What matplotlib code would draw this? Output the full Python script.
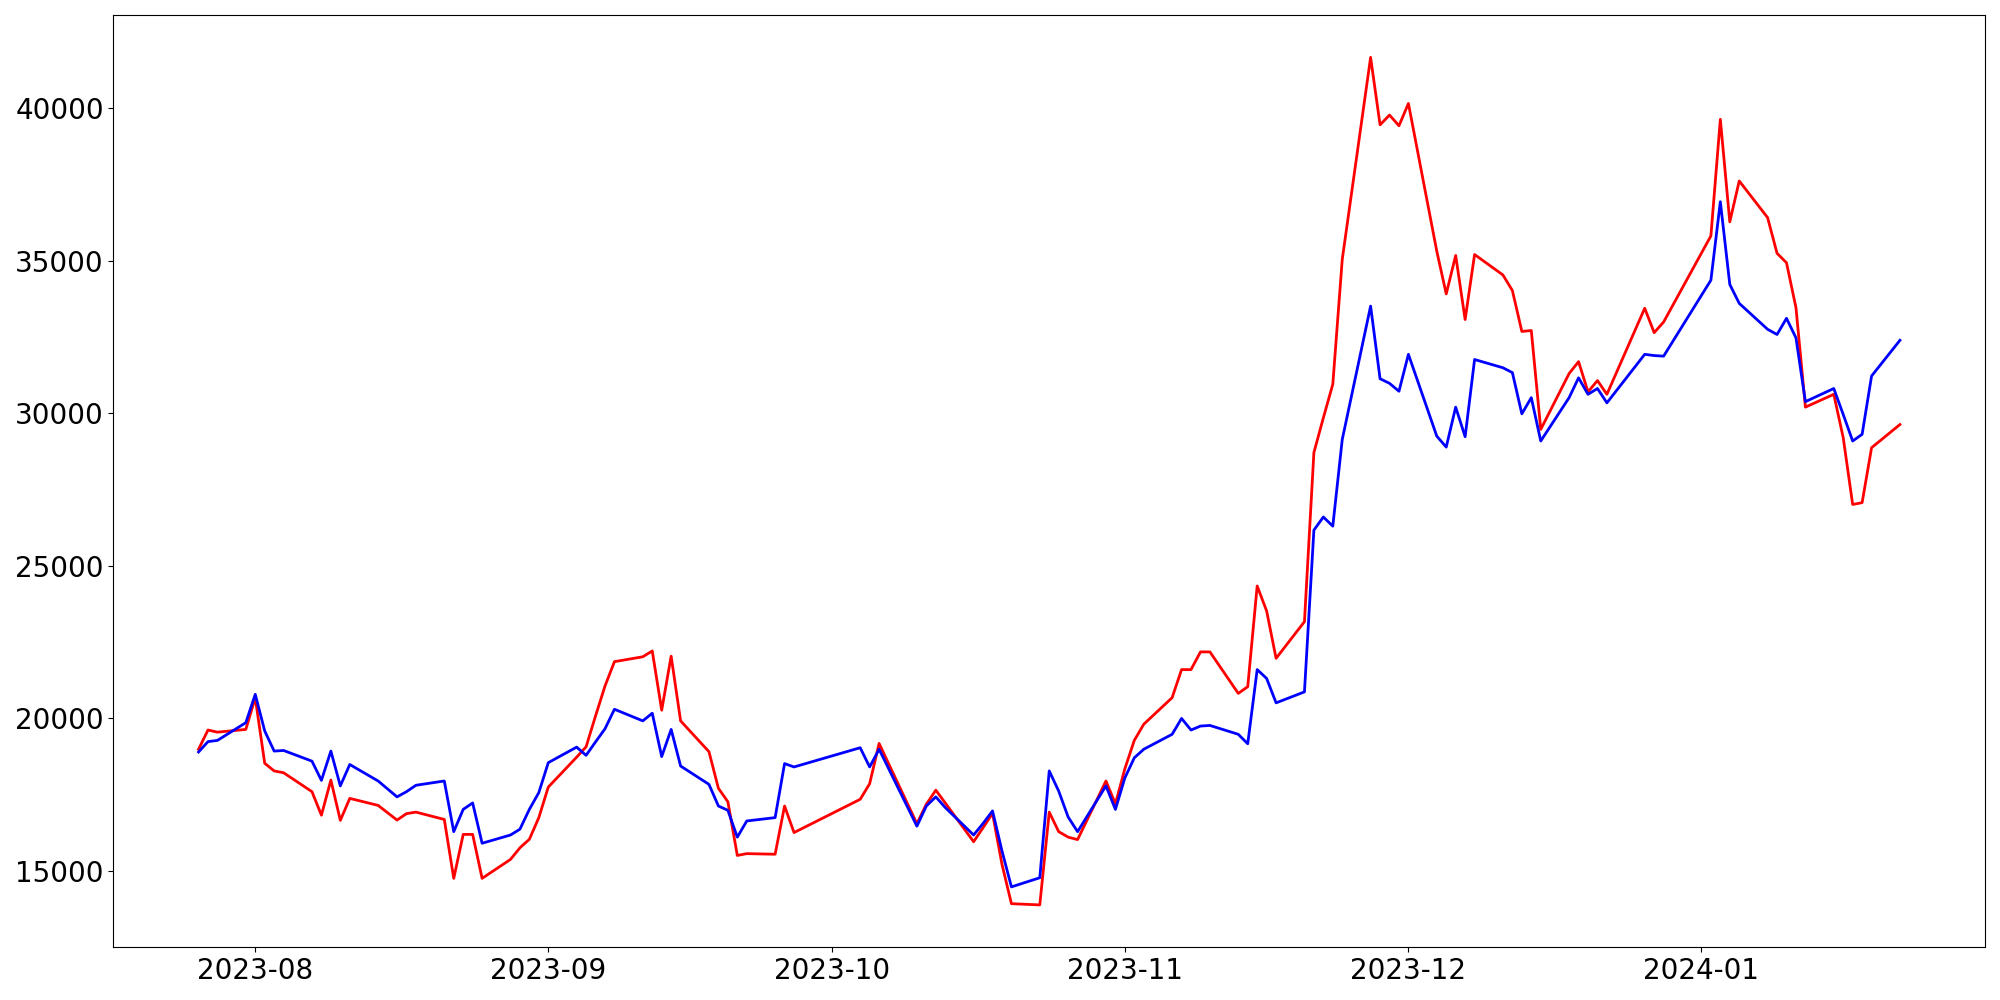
import numpy as np
import pandas as pd
import matplotlib
matplotlib.use("Agg")
import matplotlib.pyplot as plt

# trading days (KRX calendar, weekends + market holidays skipped)
holidays = ["2023-08-15", "2023-09-28", "2023-09-29", "2023-10-02", "2023-10-03",
            "2023-10-09", "2023-12-25", "2023-12-29", "2024-01-01"]
dates = pd.bdate_range("2023-07-26", "2024-01-22", freq="C", holidays=holidays)

red_values = [
    18990, 19620, 19550, 19640,
    20680, 18530, 18280, 18220,
    17600, 16830, 17980, 16660, 17380,
    17150, 16670, 16880, 16930,
    16690, 14760, 16200, 16200, 14760,
    15380, 15760, 16040, 16750,
    17750,
    18730, 19070, 20080, 21060, 21860,
    22020, 22210, 20270, 22040, 19920,
    18910, 17710, 17270, 15510, 15570,
    15550, 17130, 16260,
    17350, 17860, 19180,
    16550, 17190, 17650, 17230,
    15960, 16420, 16890, 15220, 13930,
    13890, 16930, 16290, 16110, 16030,
    17950, 17200,
    18350, 19280, 19810,
    20680, 21600, 21600, 22180, 22180,
    20820, 21040, 24340, 23520, 21970,
    23170, 28710, 29850, 30950, 35040,
    41660, 39450, 39770, 39420,
    40150,
    35310, 33910, 35170, 33070, 35200,
    34530, 34020, 32680, 32710, 29470,
    31300, 31690, 30700, 31070, 30620,
    33440, 32640, 32990,
    35810, 39630, 36270, 37610,
    36410, 35240, 34930, 33460, 30200,
    30620, 29200, 27010, 27070, 28870,
    29630,
]

blue_values = [
    18900, 19240, 19280, 19860,
    20790, 19590, 18930, 18950,
    18600, 17970, 18930, 17790, 18490,
    17950, 17430, 17600, 17810,
    17950, 16290, 17020, 17230, 15910,
    16180, 16370, 17020, 17570,
    18550,
    19060, 18790, 19230, 19660, 20300,
    19920, 20170, 18750, 19640, 18440,
    17840, 17130, 16990, 16110, 16640,
    16750, 18520, 18410,
    19040, 18410, 18990,
    16470, 17130, 17430, 17080,
    16180, 16560, 16970, 15660, 14480,
    14780, 18280, 17620, 16770, 16290,
    17790, 17020,
    18050, 18710, 18990,
    19480, 20000, 19620, 19750, 19770,
    19480, 19170, 21600, 21310, 20510,
    20870, 26170, 26600, 26300, 29140,
    33510, 31130, 30980, 30720,
    31930,
    29250, 28890, 30200, 29230, 31760,
    31490, 31330, 29980, 30510, 29090,
    30510, 31160, 30620, 30810, 30340,
    31930, 31890, 31870,
    34360, 36930, 34220, 33600,
    32750, 32580, 33110, 32470, 30380,
    30810, 29960, 29090, 29310, 31220,
    32390,
]

fig, ax = plt.subplots(figsize=(20, 10), dpi=100)
ax.plot(dates, red_values, color="red", linewidth=2)
ax.plot(dates, blue_values, color="blue", linewidth=2)
ax.tick_params(axis="both", labelsize=20)

plt.tight_layout()
fig.savefig("out.png")
